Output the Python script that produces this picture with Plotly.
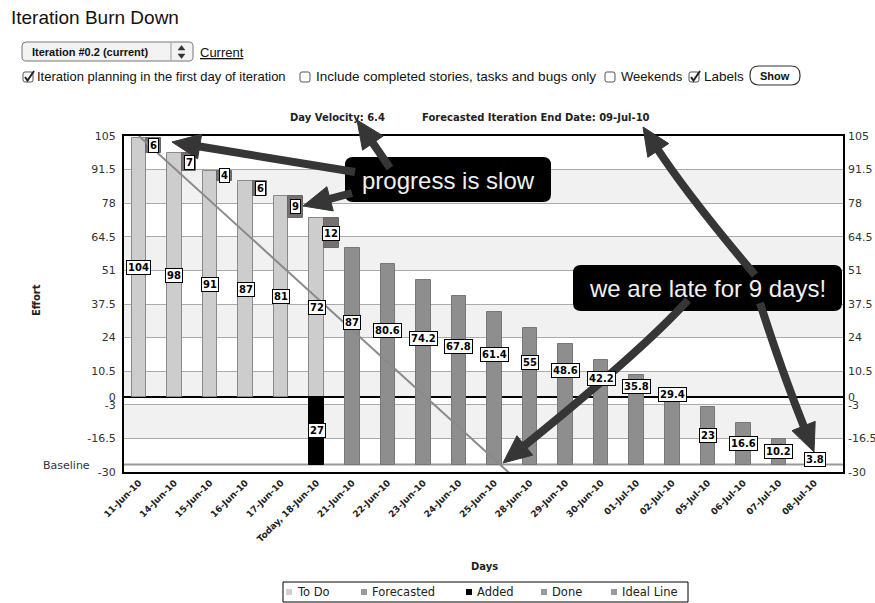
import math
import plotly.graph_objects as go

# ---------------- data ----------------
days = ["11-Jun-10", "14-Jun-10", "15-Jun-10", "16-Jun-10", "17-Jun-10", "Today, 18-Jun-10",
        "21-Jun-10", "22-Jun-10", "23-Jun-10", "24-Jun-10", "25-Jun-10", "28-Jun-10",
        "29-Jun-10", "30-Jun-10", "01-Jul-10", "02-Jul-10", "05-Jul-10", "06-Jul-10",
        "07-Jul-10", "08-Jul-10"]
todo = [104, 98, 91, 87, 81, 72]
done = [6, 7, 4, 6, 9, 12]
added = [27]
forecast = [87, 80.6, 74.2, 67.8, 61.4, 55, 48.6, 42.2, 35.8, 29.4, 23, 16.6, 10.2, 3.8]
ideal = [105, 92, 79, 66, 53, 40, 27, 14, 1, -12, -25, -38]
baseline = -27
y_ticks = [105, 91.5, 78, 64.5, 51, 37.5, 24, 10.5, 0, -3, -16.5, -30]
y_tick_text = ["105", "91.5", "78", "64.5", "51", "37.5", "24", "10.5", "0", "-3", "-16.5", "-30"]

idx = list(range(len(days)))
todo_x = idx[:len(todo)]
today_x = [len(todo) - 1]
fc_x = idx[len(todo):]

# ---------------- geometry helpers (pixel -> paper) ----------------
L, R, T, Bm = 124, 32, 136, 131
W = 875 - L - R
H = 603 - T - Bm
BOT = 603 - Bm


def P(px, py):
    return (px - L) / W, (BOT - py) / H


def p(x, y):
    X, Y = P(x, y)
    return f"{X:.5f},{Y:.5f}"


def rrect(x0, y0, x1, y1, r):
    return (f"M{p(x0 + r, y0)} L{p(x1 - r, y0)} Q{p(x1, y0)} {p(x1, y0 + r)} "
            f"L{p(x1, y1 - r)} Q{p(x1, y1)} {p(x1 - r, y1)} L{p(x0 + r, y1)} "
            f"Q{p(x0, y1)} {p(x0, y1 - r)} L{p(x0, y0 + r)} Q{p(x0, y0)} {p(x0 + r, y0)} Z")


shapes = []
annotations = []

ARROW_C = "#363636"


def arrow(S, E, C=None, w=8, hl=28, hw=25):
    if C is None:
        C = ((S[0] + E[0]) / 2, (S[1] + E[1]) / 2)
    ux, uy = E[0] - C[0], E[1] - C[1]
    n = math.hypot(ux, uy)
    ux, uy = ux / n, uy / n
    bx, by = E[0] - hl * ux, E[1] - hl * uy
    sx, sy = E[0] - (hl - 6) * ux, E[1] - (hl - 6) * uy
    nx, ny = -uy, ux
    shapes.append(dict(type="path", xref="paper", yref="paper", layer="above",
                       path=f"M{p(*S)} Q{p(*C)} {p(sx, sy)}",
                       line=dict(color=ARROW_C, width=w), fillcolor="rgba(0,0,0,0)"))
    shapes.append(dict(type="path", xref="paper", yref="paper", layer="above",
                       path=f"M{p(*E)} L{p(bx + nx * hw / 2, by + ny * hw / 2)} "
                            f"L{p(bx - nx * hw / 2, by - ny * hw / 2)} Z",
                       line=dict(color=ARROW_C, width=1), fillcolor=ARROW_C))


def ptext(x, y, text, size=11, family="DejaVu Sans", color="#222", xanchor="left",
          yanchor="middle", angle=0, **fontkw):
    X, Y = P(x, y)
    annotations.append(dict(xref="paper", yref="paper", x=X, y=Y, text=text, showarrow=False,
                            xanchor=xanchor, yanchor=yanchor, textangle=angle,
                            font=dict(family=family, size=size, color=color, **fontkw)))


# ---------------- traces ----------------
fig = go.Figure()
BW = 0.41
fig.add_trace(go.Bar(x=todo_x, y=todo, base=[0] * len(todo), width=BW, offset=-BW / 2,
                     marker=dict(color="#cdcdcd", line=dict(color="#8a8a8a", width=1)),
                     name="To Do", showlegend=False))
fig.add_trace(go.Bar(x=todo_x, y=done, base=[t - d for t, d in zip(todo, done)], width=BW,
                     offset=BW / 2, marker=dict(color="#767070", line=dict(color="#6a6666", width=1)),
                     name="Done", showlegend=False))
fig.add_trace(go.Bar(x=today_x, y=[-a for a in added], base=[0], width=BW, offset=-BW / 2,
                     marker=dict(color="#000000", line=dict(color="#000000", width=1)),
                     name="Added", showlegend=False))
fig.add_trace(go.Bar(x=fc_x, y=forecast, base=[baseline] * len(forecast), width=BW, offset=-BW / 2,
                     marker=dict(color="#8e8e8e", line=dict(color="#777777", width=1)),
                     name="Forecasted", showlegend=False))
fig.add_trace(go.Scatter(x=idx[:len(ideal)], y=ideal, mode="lines",
                         line=dict(color="#8a8a8a", width=2), name="Ideal Line", showlegend=False))
fig.add_trace(go.Scatter(x=[None], y=[None], yaxis="y2", showlegend=False, hoverinfo="skip"))

# ---------------- value labels ----------------
lab_font = dict(family="DejaVu Sans", size=10, color="#000")


def vlabel(x, y, txt):
    annotations.append(dict(x=x, y=y, xref="x", yref="y", text=f"<b>{txt}</b>", showarrow=False,
                            bgcolor="white", bordercolor="black", borderwidth=1, borderpad=1,
                            font=lab_font))


for x, v in zip(todo_x, todo):
    vlabel(x, v / 2, v)
for x, t, d in zip(todo_x, todo, done):
    vlabel(x + BW, t - d / 2, d)
vlabel(today_x[0], -added[0] / 2, added[0])
for x, v in zip(fc_x, forecast):
    top = baseline + v
    ly = top / 2 if top > 0 else baseline + v / 2
    vlabel(x, ly, f"{v:g}")

# ---------------- background bands & baseline ----------------
for i in range(len(y_ticks) - 1):
    if i % 2 == 1:
        shapes.append(dict(type="rect", xref="paper", yref="y", x0=0, x1=1,
                           y0=y_ticks[i + 1], y1=y_ticks[i], layer="below",
                           fillcolor="#f1f1f1", line=dict(width=0)))
shapes.append(dict(type="line", xref="paper", yref="y", x0=0, x1=1, y0=baseline, y1=baseline,
                   layer="between", line=dict(color="#999999", width=2)))

# ---------------- page header UI ----------------
ptext(9, 18, "Iteration Burn Down", size=19, family="Liberation Sans", color="#111")
shapes.append(dict(type="path", xref="paper", yref="paper", path=rrect(22, 42, 193, 61, 4),
                   fillcolor="#f3f3f3", line=dict(color="#777", width=1)))
X0, Y0 = P(171, 43)
X1, Y1 = P(171, 60)
shapes.append(dict(type="line", xref="paper", yref="paper", x0=X0, y0=Y0, x1=X1, y1=Y1,
                   line=dict(color="#999", width=1)))
shapes.append(dict(type="path", xref="paper", yref="paper",
                   path=f"M{p(178, 50)} L{p(185, 50)} L{p(181.5, 45.5)} Z", fillcolor="#333",
                   line=dict(color="#333", width=0.5)))
shapes.append(dict(type="path", xref="paper", yref="paper",
                   path=f"M{p(178, 54)} L{p(185, 54)} L{p(181.5, 58.5)} Z", fillcolor="#333",
                   line=dict(color="#333", width=0.5)))
ptext(30, 52, "<b>Iteration #0.2 (current)</b>", size=11, family="Liberation Sans", color="#111")
ptext(198, 52, "Current", size=13, family="Liberation Sans", color="#111", lineposition="under")


def checkbox(x, y, checked):
    shapes.append(dict(type="path", xref="paper", yref="paper", path=rrect(x, y, x + 10, y + 10, 2),
                       fillcolor="white", line=dict(color="#555", width=1)))
    if checked:
        shapes.append(dict(type="path", xref="paper", yref="paper",
                           path=f"M{p(x + 2, y + 5)} L{p(x + 4.5, y + 8.5)} L{p(x + 11, y - 1)}",
                           fillcolor="rgba(0,0,0,0)", line=dict(color="#222", width=2)))


row_y = 77
checkbox(23, row_y - 5, True)
ptext(35, row_y, "Iteration planning in the first day of iteration", size=13,
      family="Liberation Sans", color="#111")
checkbox(300, row_y - 5, False)
ptext(314, row_y, "Include completed stories, tasks and bugs only", size=13.5,
      family="Liberation Sans", color="#111")
checkbox(605, row_y - 5, False)
ptext(619, row_y, "Weekends", size=13, family="Liberation Sans", color="#111")
checkbox(689, row_y - 5, True)
ptext(702, row_y, "Labels", size=13.5, family="Liberation Sans", color="#111")
shapes.append(dict(type="path", xref="paper", yref="paper", path=rrect(750, 66, 800, 85, 9),
                   fillcolor="white", line=dict(color="#333", width=1.2)))
ptext(775, 75.5, "<b>Show</b>", size=11, family="Liberation Sans", color="#111", xanchor="center")

# ---------------- chart titles ----------------
ptext(288, 117, "<b>Day Velocity: 6.4</b>", size=10)
ptext(420, 117, "<b>Forecasted Iteration End Date: 09-Jul-10</b>", size=10)
ptext(36, 300, "<b>Effort</b>", size=10, xanchor="center", angle=-90)
ptext(92, 465, "Baseline", size=11, color="#333", xanchor="right")
ptext(484, 566, "<b>Days</b>", size=10, xanchor="center")

# ---------------- manual legend ----------------
X0, Y0 = P(283, 582)
X1, Y1 = P(688, 602)
shapes.append(dict(type="rect", xref="paper", yref="paper", x0=X0, y0=Y0, x1=X1, y1=Y1,
                   fillcolor="white", line=dict(color="black", width=1)))
legend_items = [("To Do", "#d0d0d0", 289), ("Forecasted", "#9a9a9a", 364), ("Added", "#000000", 469),
                ("Done", "#9a9a9a", 544), ("Ideal Line", "#9a9a9a", 614)]
for name, col, mx in legend_items:
    a0, b0 = P(mx - 3, 589)
    a1, b1 = P(mx + 3, 595)
    shapes.append(dict(type="rect", xref="paper", yref="paper", x0=a0, y0=b0, x1=a1, y1=b1,
                       fillcolor=col, line=dict(width=0)))
    ptext(mx + 6, 592, name, size=11.5, color="#222")

# ---------------- callouts ----------------
shapes.append(dict(type="path", xref="paper", yref="paper", path=rrect(345, 157, 551, 202, 8),
                   fillcolor="black", line=dict(width=0)))
shapes.append(dict(type="path", xref="paper", yref="paper", path=rrect(573, 265, 842, 311, 8),
                   fillcolor="black", line=dict(width=0)))

arrow((355, 172), (172, 142))
arrow((352, 193), (303, 206))
arrow((390, 168), (357, 120))
arrow((755, 275), (643, 127), C=(688, 196))
arrow((760, 303), (814, 452), C=(782, 372))
arrow((688, 300), (503, 463), C=(643, 350))

ptext(448, 180, "progress is slow", size=24, family="Liberation Sans", color="#f0f0f0",
      xanchor="center")
ptext(707.5, 288, "we are late for 9 days!", size=24, family="Liberation Sans", color="#f0f0f0",
      xanchor="center")

# ---------------- layout ----------------
tickfont = dict(family="DejaVu Sans", size=11, color="#333")
fig.update_layout(
    width=875, height=603,
    margin=dict(l=L, r=R, t=T, b=Bm, autoexpand=False),
    paper_bgcolor="white", plot_bgcolor="white",
    barmode="overlay", bargap=0,
    showlegend=False,
    xaxis=dict(range=[-0.42, 19.8], tickmode="array", tickvals=idx, ticktext=days,
               tickangle=-45, tickfont=dict(family="DejaVu Sans", size=9, color="#222", weight="bold"),
               showgrid=False, zeroline=False, showline=True, mirror=True, automargin=False,
               linecolor="black", linewidth=2, ticks=""),
    yaxis=dict(range=[-30, 105], tickmode="array", tickvals=y_ticks, ticktext=y_tick_text,
               tickfont=tickfont, showgrid=True, gridcolor="#aaaaaa", gridwidth=1,
               zeroline=True, zerolinecolor="black", zerolinewidth=2, automargin=False,
               showline=True, mirror=True, linecolor="black", linewidth=2, ticks="",
               ticklabelstandoff=4),
    yaxis2=dict(range=[-30, 105], tickmode="array", tickvals=y_ticks, ticktext=y_tick_text,
                tickfont=tickfont, overlaying="y", side="right", showgrid=False, automargin=False,
                zeroline=False, showline=False, ticks="", ticklabelstandoff=4),
    shapes=shapes,
    annotations=annotations,
)

fig.write_html("out.html")
